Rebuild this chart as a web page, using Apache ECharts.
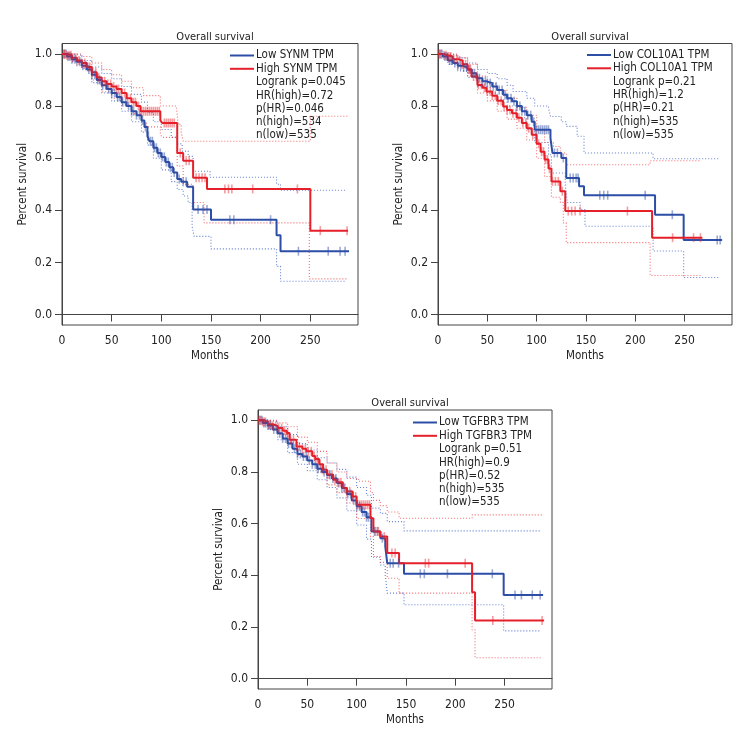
<!DOCTYPE html>
<html>
<head>
<meta charset="utf-8">
<script src="https://cdn.jsdelivr.net/npm/echarts@6/dist/echarts.min.js"></script>
<style>html,body{margin:0;padding:0;background:#fff}#chart{width:756px;height:756px}</style>
</head>
<body>
<div id="chart"></div>
<script>
// ---------- DATA ----------
const xTicks = [0, 50, 100, 150, 200, 250];
const yTicks = [0, 0.2, 0.4, 0.6, 0.8, 1.0];
const panelTitle = 'Overall survival';
const genes = ['SYNM', 'COL10A1', 'TGFBR3'];
const statsSYNM = ['Logrank p=0.045', 'HR(high)=0.72', 'p(HR)=0.046', 'n(high)=534', 'n(low)=535'];
const statsCOL10A1 = ['Logrank p=0.21', 'HR(high)=1.2', 'p(HR)=0.21', 'n(high)=535', 'n(low)=535'];
const statsTGFBR3 = ['Logrank p=0.51', 'HR(high)=0.9', 'p(HR)=0.52', 'n(high)=535', 'n(low)=535'];

// Panel 1: SYNM  [months, survival]
const synmLow = [[0,1],[5,0.99],[10,0.98],[15,0.97],[20,0.955],[25,0.94],[30,0.92],[35,0.9],[40,0.88],[45,0.865],[50,0.85],[55,0.835],[60,0.815],[65,0.8],[70,0.78],[75,0.765],[80,0.745],[83,0.72],[86,0.685],[88,0.665],[92,0.64],[96,0.62],[100,0.605],[104,0.585],[108,0.565],[112,0.545],[116,0.52],[120,0.51],[126,0.49],[132,0.403],[150,0.364],[216,0.304],[220,0.243],[289,0.243]];
const synmLowCens = [2,4,6,8,10,13,15,18,21,24,27,30,33,36,38,41,44,47,50,53,56,58,61,64,67,70,72,75,78,81,84,87,89,91,93,95,97,99,101,103,105,107,109,111,113,118,122,125,137,142,146,169,173,210,238,268,280,285];
const synmLowUp = [[0,1],[10,0.995],[20,0.975],[30,0.95],[40,0.925],[50,0.905],[60,0.875],[70,0.845],[80,0.815],[86,0.775],[92,0.74],[100,0.71],[110,0.68],[116,0.655],[121,0.627],[127,0.607],[132,0.55],[149,0.527],[216,0.5],[220,0.477],[285,0.477]];
const synmLowLo = [[0,1],[10,0.97],[20,0.945],[30,0.89],[40,0.85],[50,0.82],[60,0.78],[70,0.74],[80,0.7],[86,0.65],[92,0.6],[100,0.555],[110,0.51],[116,0.48],[122,0.455],[127,0.43],[131,0.339],[133,0.3],[150,0.252],[216,0.185],[220,0.128],[285,0.128]];
const synmHigh = [[0,1],[5,0.995],[10,0.985],[15,0.975],[20,0.965],[25,0.95],[30,0.93],[35,0.91],[40,0.895],[45,0.885],[50,0.875],[55,0.865],[60,0.85],[65,0.83],[70,0.815],[75,0.8],[79,0.78],[99,0.745],[101,0.735],[116,0.62],[122,0.59],[132,0.525],[146,0.482],[250,0.322],[288,0.322]];
const synmHighCens = [2,3,5,7,9,11,14,17,20,23,26,28,31,34,37,40,43,46,49,52,55,57,60,63,66,69,72,74,77,80,82,84,86,88,90,92,94,96,98,103,105,107,109,111,113,119,125,128,135,138,141,144,164,167.6,171,192,237,260,287];
const synmHighUp = [[0,1],[10,1],[20,0.99],[30,0.965],[40,0.94],[50,0.92],[60,0.895],[70,0.87],[82,0.84],[99,0.8],[115,0.8],[117,0.73],[120,0.7],[122,0.665],[250,0.761],[288,0.761]];
const synmHighLo = [[0,1],[10,0.975],[20,0.945],[30,0.9],[40,0.855],[50,0.83],[60,0.805],[70,0.77],[80,0.735],[85,0.72],[99,0.69],[101,0.68],[116,0.57],[122,0.5],[132,0.43],[143,0.352],[249,0.137],[287,0.137]];

// Panel 2: COL10A1
const colLow = [[0,1],[5,0.99],[10,0.975],[15,0.965],[20,0.955],[25,0.948],[30,0.94],[34,0.926],[39,0.907],[45,0.895],[49,0.888],[55,0.875],[60,0.862],[66,0.843],[70,0.83],[75,0.818],[80,0.8],[85,0.78],[90,0.765],[95,0.74],[98,0.709],[114,0.677],[116,0.62],[125,0.601],[130,0.524],[143,0.492],[148,0.458],[220,0.383],[249,0.286],[288,0.286]];
const colLowCens = [2,4,7,9,12,14,17,20,23,26,29,32,35,37,40,42,45,48,50,53,56,59,62,65,68,71,74,77,80,83,85,88,91,94,97,100,102,104,106,108,110,112,118,121,127,134,137,140,142,164,168,172,210,237.5,283,286];
const colLowUp = [[0,1],[10,0.995],[20,0.985],[30,0.965],[40,0.94],[50,0.925],[60,0.905],[70,0.88],[76,0.856],[90,0.83],[98,0.8],[112,0.792],[114,0.76],[125,0.74],[130,0.722],[141,0.684],[148,0.62],[218,0.598],[286,0.598]];
const colLowLo = [[0,1],[10,0.96],[20,0.935],[30,0.91],[40,0.875],[50,0.85],[60,0.825],[70,0.8],[80,0.755],[90,0.71],[98,0.66],[112,0.613],[115,0.543],[129,0.499],[131,0.43],[144,0.403],[149,0.339],[218,0.244],[249,0.142],[286,0.142]];
const colHigh = [[0,1],[5,0.995],[10,0.99],[15,0.98],[20,0.975],[25,0.96],[30,0.94],[34,0.913],[40,0.881],[45,0.87],[49,0.856],[55,0.84],[60,0.82],[66,0.798],[70,0.785],[75,0.772],[80,0.755],[85,0.735],[90,0.715],[95,0.69],[100,0.655],[104,0.625],[108,0.595],[112,0.56],[115,0.511],[124,0.473],[129,0.397],[217,0.295],[268,0.295]];
const colHighCens = [1,3,6,8,11,13,16,19,22,25,28,31,33,36,39,41,44,47,50,53,55,58,61,64,67,70,73,76,79,82,86,89,92,96,99,102,105,107,109,111,113,116,119,122,126,132,135.5,139,144,192,237.8,259,266];
const colHighUp = [[0,1],[10,1],[20,0.985],[30,0.96],[40,0.915],[50,0.885],[60,0.86],[70,0.83],[80,0.795],[90,0.765],[100,0.71],[108,0.66],[117,0.645],[124,0.62],[130,0.575],[215,0.59],[266,0.59]];
const colHighLo = [[0,1],[10,0.97],[20,0.95],[30,0.915],[40,0.85],[50,0.82],[60,0.78],[70,0.75],[80,0.715],[90,0.67],[100,0.6],[108,0.53],[115,0.45],[124,0.43],[127,0.352],[130,0.276],[215,0.15],[266,0.15]];

// Panel 3: TGFBR3
const tgfLow = [[0,1],[5,0.99],[10,0.98],[15,0.965],[20,0.95],[25,0.93],[30,0.91],[35,0.89],[40,0.87],[45,0.86],[50,0.845],[55,0.83],[60,0.813],[65,0.8],[70,0.788],[75,0.775],[80,0.757],[85,0.738],[90,0.715],[95,0.69],[100,0.667],[105,0.645],[110,0.625],[115,0.57],[124,0.544],[129,0.512],[131,0.447],[148,0.406],[249,0.324],[289,0.324]];
const tgfLowCens = [2,4,6,8,11,13,16,19,22,25,28,31,34,37,40,43,46,49,52,55,58,61,64,67,70,73,76,79,82,85,88,91,94,97,100,103,106,108,110,112,118,121,126,134,137,142.5,164.5,168.6,192,237.5,260.5,267,278,286];
const tgfLowUp = [[0,1],[10,0.995],[20,0.975],[30,0.945],[40,0.91],[50,0.885],[60,0.855],[70,0.835],[80,0.81],[90,0.78],[100,0.74],[110,0.71],[115,0.66],[124,0.64],[131,0.608],[148,0.572],[286,0.572]];
const tgfLowLo = [[0,1],[10,0.965],[20,0.925],[30,0.875],[40,0.83],[50,0.805],[60,0.77],[70,0.74],[80,0.7],[90,0.65],[100,0.595],[110,0.54],[115,0.47],[124,0.44],[129,0.4],[131,0.331],[148,0.286],[249,0.185],[286,0.185]];
const tgfHigh = [[0,1],[5,0.995],[10,0.985],[15,0.978],[20,0.97],[25,0.96],[29,0.951],[32,0.925],[39,0.899],[45,0.89],[49,0.88],[55,0.862],[58,0.85],[62,0.83],[66,0.809],[70,0.79],[76,0.77],[80,0.76],[86,0.738],[90,0.725],[96,0.705],[100,0.673],[114,0.621],[117,0.57],[124,0.55],[131,0.486],[143,0.447],[217,0.335],[220,0.225],[290,0.225]];
const tgfHighCens = [1,3,5,7,10,12,15,18,21,24,27,30,33,36,39,42,45,48,51,54,57,60,63,66,69,72,75,78,81,84,87,90,93,96,99,101,103,105,107,109,111,113,119,122,128,135.7,139,169.6,173,210,238,288];
const tgfHighUp = [[0,1],[10,1],[20,0.99],[30,0.975],[40,0.935],[50,0.915],[60,0.88],[70,0.835],[80,0.8],[90,0.775],[102,0.764],[114,0.72],[117,0.69],[124,0.67],[131,0.645],[143,0.621],[217,0.634],[288,0.634]];
const tgfHighLo = [[0,1],[10,0.97],[20,0.945],[30,0.915],[40,0.865],[50,0.845],[60,0.8],[70,0.75],[80,0.72],[90,0.68],[100,0.62],[114,0.55],[117,0.473],[124,0.45],[131,0.389],[143,0.331],[217,0.189],[220,0.081],[288,0.081]];

// ---------- LAYOUT / STYLE ----------
const FONT = "'Liberation Sans Narrow','DejaVu Sans Condensed','Roboto Condensed',sans-serif";
const BLUE = '#2d4ea6';
const RED = '#e5202a';
const BLUE_CI = 'rgba(60,95,200,0.8)';
const RED_CI = 'rgba(240,70,75,0.8)';
const BLUE_CENS = 'rgba(45,78,166,0.6)';
const RED_CENS = 'rgba(229,32,42,0.55)';
const AXIS_COL = '#444';

const panels = [
  { gene: genes[0], stats: statsSYNM, box: {left: 62, top: 43.5, width: 296, height: 281.5},
    low: synmLow, lowC: synmLowCens, lowU: synmLowUp, lowL: synmLowLo,
    high: synmHigh, highC: synmHighCens, highU: synmHighUp, highL: synmHighLo,
    legendX: 230, legendY: 49 },
  { gene: genes[1], stats: statsCOL10A1, box: {left: 438, top: 43.5, width: 294, height: 281.5},
    low: colLow, lowC: colLowCens, lowU: colLowUp, lowL: colLowLo,
    high: colHigh, highC: colHighCens, highU: colHighUp, highL: colHighLo,
    legendX: 587, legendY: 48.5 },
  { gene: genes[2], stats: statsTGFBR3, box: {left: 258, top: 410, width: 294, height: 279},
    low: tgfLow, lowC: tgfLowCens, lowU: tgfLowUp, lowL: tgfLowLo,
    high: tgfHigh, highC: tgfHighCens, highU: tgfHighUp, highL: tgfHighLo,
    legendX: 413, legendY: 416 }
];

function stepAt(curve, t) {
  let v = curve[0][1];
  for (const p of curve) { if (p[0] <= t) v = p[1]; else break; }
  return v;
}

const option = {
  animation: false,
  backgroundColor: '#fff',
  title: [], grid: [], xAxis: [], yAxis: [], series: [], legend: [], graphic: []
};

panels.forEach((P, i) => {
  const b = P.box;
  option.grid.push({ left: b.left, top: b.top, width: b.width, height: b.height,
    show: true, borderColor: AXIS_COL, borderWidth: 1, backgroundColor: 'transparent' });
  option.title.push({ text: panelTitle, left: b.left + b.width / 2, top: b.top - 17,
    textAlign: 'center', textStyle: { fontFamily: FONT, fontSize: 11, fontWeight: 'normal', color: '#222' } });
  option.xAxis.push({ type: 'value', gridIndex: i, min: 0, max: 298,
    name: 'Months', nameLocation: 'middle', nameGap: 25,
    nameTextStyle: { fontFamily: FONT, fontSize: 11.5, color: '#222' },
    axisLine: { show: true, lineStyle: { color: AXIS_COL, width: 1 } },
    axisTick: { show: true, inside: false, length: 7, customValues: xTicks, lineStyle: { color: AXIS_COL } },
    axisLabel: { customValues: xTicks, margin: 10, fontFamily: FONT, fontSize: 12, color: '#222' },
    splitLine: { show: false } });
  option.yAxis.push({ type: 'value', gridIndex: i, min: -0.04, max: 1.04,
    name: 'Percent survival', nameLocation: 'middle', nameGap: 33, nameRotate: 90,
    nameTextStyle: { fontFamily: FONT, fontSize: 11.5, color: '#222' },
    axisLine: { show: true, lineStyle: { color: AXIS_COL, width: 1 } },
    axisTick: { show: true, inside: false, length: 7, customValues: yTicks, lineStyle: { color: AXIS_COL } },
    axisLabel: { customValues: yTicks, margin: 10, fontFamily: FONT, fontSize: 12, color: '#222',
      formatter: v => v.toFixed(1) },
    splitLine: { show: false } });

  const lowName = 'Low ' + P.gene + ' TPM';
  const highName = 'High ' + P.gene + ' TPM';
  const groups = [
    { name: lowName, c: BLUE, ci: BLUE_CI, cens: BLUE_CENS, curve: P.low, cT: P.lowC, up: P.lowU, lo: P.lowL },
    { name: highName, c: RED, ci: RED_CI, cens: RED_CENS, curve: P.high, cT: P.highC, up: P.highU, lo: P.highL }
  ];
  groups.forEach(g => {
    [g.up, g.lo].forEach(ci => {
      option.series.push({ type: 'line', xAxisIndex: i, yAxisIndex: i, data: ci, step: 'end',
        showSymbol: false, silent: true, z: 1,
        lineStyle: { color: g.ci, width: 1.1, type: [1, 2] } });
    });
  });
  groups.forEach(g => {
    option.series.push({ type: 'line', name: g.name, xAxisIndex: i, yAxisIndex: i, data: g.curve, step: 'end',
      showSymbol: false, z: 3, color: g.c, lineStyle: { color: g.c, width: 2 } });
    option.series.push({ type: 'scatter', xAxisIndex: i, yAxisIndex: i, silent: true, z: 4,
      data: g.cT.map(t => [t, stepAt(g.curve, t)]),
      symbol: 'rect', symbolSize: [1.6, 9], itemStyle: { color: g.cens } });
  });

  option.legend.push({ data: [lowName, highName], orient: 'vertical', left: P.legendX, top: P.legendY,
    icon: 'rect', itemWidth: 24, itemHeight: 2, itemGap: 0.3, selectedMode: false, padding: 0,
    textStyle: { fontFamily: FONT, fontSize: 11.5, color: '#222', lineHeight: 13, padding: [0, 0, 0, -3] } });
  option.graphic.push({ type: 'text', left: P.legendX + 26, top: P.legendY + 26.6,
    style: { text: P.stats.join('\n'), fontFamily: FONT, fontSize: 11.5, lineHeight: 13.3, fill: '#222' } });
});

const chart = echarts.init(document.getElementById('chart'), null, { renderer: 'canvas' });
chart.setOption(option);
</script>
</body>
</html>
